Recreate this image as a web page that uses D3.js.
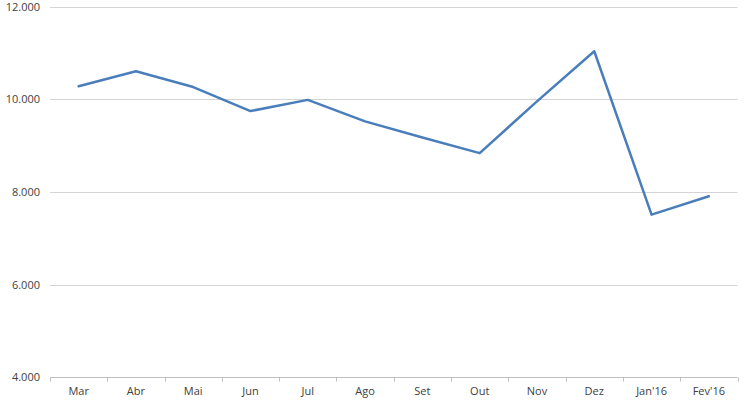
<!DOCTYPE html>
<html>
<head>
<meta charset="utf-8">
<script src="https://cdn.jsdelivr.net/npm/d3@7/dist/d3.min.js"></script>
<style>
html,body{margin:0;padding:0;background:#fff;}
svg{display:block;}
text{font-family:"Open Sans",sans-serif;fill:#404040;}
</style>
</head>
<body>
<svg id="chart" width="750" height="400"></svg>
<script>
const categories = ["Mar","Abr","Mai","Jun","Jul","Ago","Set","Out","Nov","Dez","Jan'16","Fev'16"];
const values = [10281,10605,10266,9747,9989,9524,9178,8839,9957,11038,7511,7907];
const yTicks = [4000,6000,8000,10000,12000];

const svg = d3.select("#chart");
const mLeft = 50, mRight = 737.5, mTop = 6.7, mBottom = 377.3;

const x = d3.scaleBand().domain(categories).range([mLeft, mRight]);
const y = d3.scaleLinear().domain([4000,12000]).range([mBottom, mTop]);
const yfmt = v => (v/1000).toFixed(3);

// gridlines
svg.append("g")
  .selectAll("line").data(yTicks.filter(t => t !== 4000)).join("line")
  .attr("x1", mLeft).attr("x2", mRight)
  .attr("y1", d => Math.round(y(d)) + 0.5).attr("y2", d => Math.round(y(d)) + 0.5)
  .attr("stroke", "#d4d4d4").attr("stroke-width", 1);

// y axis labels
const yAxis = d3.axisLeft(y).tickValues(yTicks).tickFormat(yfmt).tickSize(0).tickPadding(10);
const gy = svg.append("g").attr("transform", `translate(${mLeft},0)`).call(yAxis);
gy.select(".domain").remove();
gy.selectAll("text").style("font-size","11px").attr("fill","#404040");

// x axis
const xAxis = d3.axisBottom(x).tickSize(0).tickPadding(10);
const gx = svg.append("g").attr("transform", `translate(0,${Math.round(mBottom)+0.5})`).call(xAxis);
gx.select(".domain").attr("stroke","#bfbfbf").attr("d", `M${mLeft},0H${mRight}`);
gx.selectAll("text").style("font-size","11px").attr("fill","#404040");
// boundary ticks
const bounds = categories.map(c => x(c)).concat([mRight]);
gx.selectAll(".btick").data(bounds).join("line").attr("class","btick")
  .attr("x1", d => Math.round(d)+0.5).attr("x2", d => Math.round(d)+0.5)
  .attr("y1", 0).attr("y2", 4).attr("stroke","#bfbfbf");

// line
const line = d3.line()
  .x((d,i) => x(categories[i]) + x.bandwidth()/2)
  .y(d => y(d));
svg.append("path").datum(values)
  .attr("d", line)
  .attr("fill","none")
  .attr("stroke","#4a7ebb")
  .attr("stroke-width",2.5)
  .attr("stroke-linejoin","round")
  .attr("stroke-linecap","round");
</script>
</body>
</html>
